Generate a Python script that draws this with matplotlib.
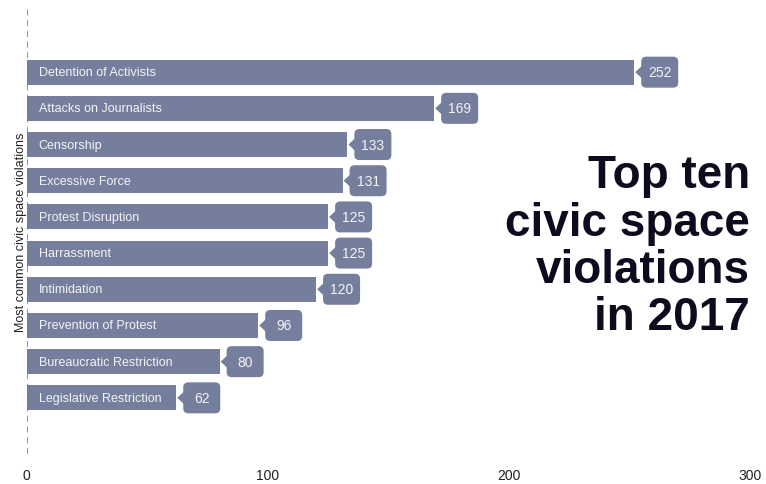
import matplotlib.pyplot as plt
from matplotlib.patches import FancyBboxPatch, Polygon
from matplotlib.transforms import IdentityTransform, ScaledTranslation

plt.rcParams['font.family'] = ['Liberation Sans', 'DejaVu Sans']

violations = ['Detention of Activists', 'Attacks on Journalists', 'Censorship',
              'Excessive Force', 'Protest Disruption', 'Harrassment', 'Intimidation',
              'Prevention of Protest', 'Bureaucratic Restriction', 'Legislative Restriction']
counts = [252, 169, 133, 131, 125, 125, 120, 96, 80, 62]
x_ticks = [0, 100, 200, 300]

bar_color = '#767e9d'
title_color = '#0c0c1e'

fig = plt.figure(figsize=(7.66, 4.85), dpi=100)
ax = fig.add_axes([0.035, 0.062, 0.944, 0.917])

pos = list(range(len(violations)))
ax.barh(pos, counts, height=0.69, color=bar_color, zorder=2)

for i, (name, v) in enumerate(zip(violations, counts)):
    ax.text(5, i, name, va='center', ha='left', color='#f4f4f6', fontsize=9, zorder=3)
    # callout: pixel offsets anchored at the bar end
    tr = IdentityTransform() + ScaledTranslation(v, i, ax.transData)
    ax.add_patch(Polygon([(1, 0), (8, 6.5), (8, -6.5)], closed=True, fc=bar_color, ec='none',
                         transform=tr, zorder=3, clip_on=False))
    ax.add_patch(FancyBboxPatch((7, -15.5), 37, 31, boxstyle='round,pad=0,rounding_size=5',
                                fc=bar_color, ec='none', transform=tr, zorder=3, clip_on=False))
    ax.annotate(str(v), xy=(v, i), xytext=(25.5, 0), textcoords='offset pixels',
                ha='center', va='center', color='#f4f4f6', fontsize=10, zorder=4)

ax.set_xlim(0, 300)
ax.set_ylim(9 + 1.55, -1.74)
ax.set_xticks(x_ticks)
ax.set_xticklabels([str(t) for t in x_ticks], fontsize=10, color='#222222')
ax.tick_params(axis='x', length=0, pad=10)
ax.set_yticks([])
for side in ['top', 'right', 'bottom', 'left']:
    ax.spines[side].set_visible(False)
ax.axvline(0, color='#6e7590', lw=1.1, ls=(0, (4, 3)), zorder=4)
ax.set_ylabel('Most common civic space violations', fontsize=9, color='#222222', labelpad=0)

fig.text(0.979, 0.49, 'Top ten\ncivic space\nviolations\nin 2017', ha='right', va='center',
         fontsize=33, fontweight='bold', color=title_color, linespacing=1.1)

fig.savefig('out.png', dpi=100)
